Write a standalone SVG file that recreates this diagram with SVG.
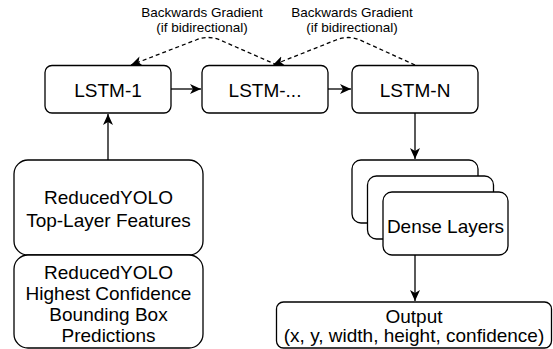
<svg xmlns="http://www.w3.org/2000/svg" width="553" height="349" viewBox="0 0 553 349">
<style>
.box{fill:#fff;stroke:#000;stroke-width:1.3}
.t{font-family:"Liberation Sans",Arial,sans-serif;font-size:19px;fill:#000;text-anchor:middle}
.s{font-family:"Liberation Sans",Arial,sans-serif;font-size:13.5px;fill:#000;text-anchor:middle}
.e{fill:none;stroke:#000;stroke-width:1.3}
.d{fill:none;stroke:#000;stroke-width:1.3;stroke-dasharray:4 3}
</style>
<defs>
<marker id="a" markerUnits="userSpaceOnUse" markerWidth="12" markerHeight="12" viewBox="0 0 12 12" refX="11" refY="6" orient="auto">
<path d="M0,1 L11,6 L0,11 L3,6 z" fill="#000"/>
</marker>
</defs>
<rect width="553" height="349" fill="#fff"/>
<g id="connectors">
<path class="e" d="M171,89 L201,89" marker-end="url(#a)"/>
<path class="e" d="M328,89 L351,89" marker-end="url(#a)"/>
<path class="e" d="M108,160 L108,114" marker-end="url(#a)"/>
<path class="e" d="M415,113 L415,159" marker-end="url(#a)"/>
<path class="e" d="M415,255 L415,301" marker-end="url(#a)"/>
<path class="d" d="M277,65 L220,40 Q208,35 196,40 L131,65" marker-end="url(#a)"/>
<path class="d" d="M415,65 L360,40 Q348,35 336,40 L273,65" marker-end="url(#a)"/>
</g>
<g id="label1"><text class="s" x="202" y="17">Backwards Gradient</text><text class="s" x="202" y="32">(if bidirectional)</text></g>
<g id="label2"><text class="s" x="352" y="17">Backwards Gradient</text><text class="s" x="352" y="32">(if bidirectional)</text></g>
<g id="lstm1"><rect class="box" x="45" y="65.5" width="126" height="47.5" rx="7"/><text class="t" x="108" y="96.5">LSTM-1</text></g>
<g id="lstmdots"><rect class="box" x="202" y="65.5" width="126" height="47.5" rx="7"/><text class="t" x="265" y="96.5">LSTM-...</text></g>
<g id="lstmN"><rect class="box" x="352" y="65.5" width="126" height="47.5" rx="7"/><text class="t" x="415" y="96.5">LSTM-N</text></g>
<g id="features"><rect class="box" x="14" y="160" width="189" height="95" rx="14"/><text class="t" x="108.5" y="203.5">ReducedYOLO</text><text class="t" x="108.5" y="226.5">Top-Layer Features</text></g>
<g id="predictions"><rect class="box" x="14" y="255" width="189" height="93" rx="14"/><text class="t" x="108.5" y="278.5">ReducedYOLO</text><text class="t" x="108.5" y="299.5">Highest Confidence</text><text class="t" x="108.5" y="320.5">Bounding Box</text><text class="t" x="108.5" y="341.5">Predictions</text></g>
<g id="dense"><rect class="box" x="352" y="160" width="126" height="63" rx="9"/><rect class="box" x="367.5" y="176" width="126" height="63" rx="9"/><rect class="box" x="383" y="192" width="125" height="63" rx="9"/><text class="t" x="445.5" y="232.5">Dense Layers</text></g>
<g id="output"><rect class="box" x="276.5" y="302" width="275" height="46" rx="7"/><text class="t" x="414" y="322.5">Output</text><text class="t" x="414" y="342">(x, y, width, height, confidence)</text></g>
</svg>
